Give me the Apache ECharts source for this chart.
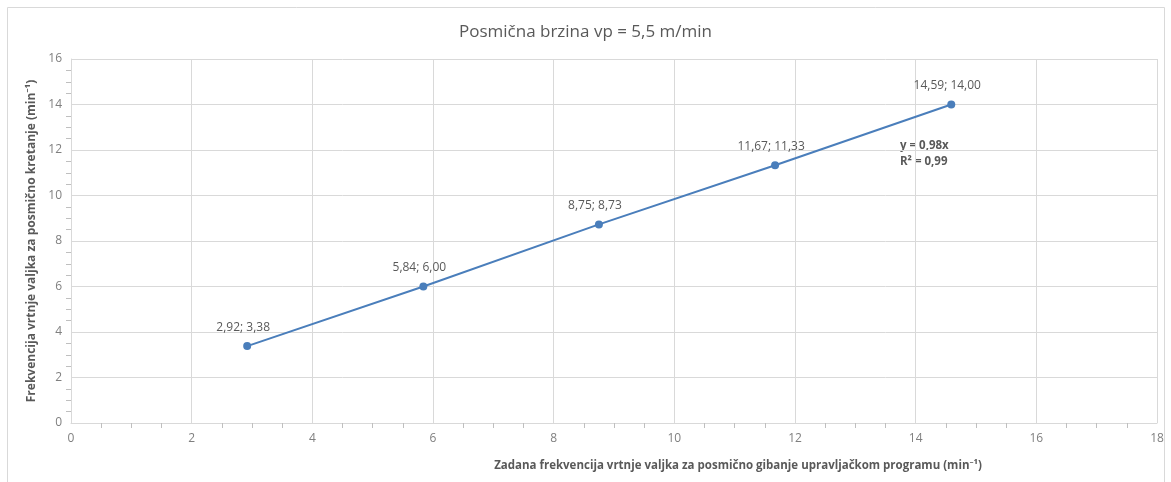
<!DOCTYPE html>
<html>
<head>
<meta charset="utf-8">
<script src="https://cdn.jsdelivr.net/npm/echarts@6/dist/echarts.min.js"></script>
<style>
  html, body { margin: 0; padding: 0; background: #fff; }
  #chart { width: 1171px; height: 482px; }
</style>
</head>
<body>
<div id="chart"></div>
<script>
// values
const xValues = [2.92, 5.84, 8.75, 11.67, 14.59]
const yValues = [3.38, 6.00, 8.73, 11.33, 14.00]
const trendText = ['y = 0,98x', 'R² = 0,99']

const titleText = 'Posmična brzina vp = 5,5 m/min'
const xName = 'Zadana frekvencija vrtnje valjka za posmično gibanje upravljačkom programu (min⁻¹)'
const yName = 'Frekvencija vrtnje valjka za posmično kretanje (min⁻¹)'

const fmt = v => v.toFixed(2).replace('.', ',')
const font = 'Open Sans, Noto Sans, sans-serif'
const grey = '#595959'
const gridCol = '#d9d9d9'

let points = xValues.map((x, i) => [x, yValues[i]])

let mychart = echarts.init(document.getElementById('chart'))
mychart.setOption({
  animation: false,
  title: {
    text: titleText,
    left: 'center',
    top: 19,
    textStyle: { color: grey, fontSize: 17, fontWeight: 'normal', fontFamily: font }
  },
  grid: { left: 71, right: 14, top: 59, bottom: 59, containLabel: false },
  xAxis: {
    type: 'value',
    min: 0, max: 18, interval: 2,
    name: xName,
    nameLocation: 'middle',
    nameGap: 37,
    nameTextStyle: { color: grey, fontSize: 11.5, fontWeight: 'bold', fontFamily: font, padding: [0, 0, 0, 248] },
    axisLine: { show: true, lineStyle: { color: gridCol } },
    axisTick: { show: false },
    minorTick: { show: true, splitNumber: 4, length: 5, lineStyle: { color: '#bfbfbf' } },
    axisLabel: { color: '#7f7f7f', fontSize: 12, fontFamily: font, margin: 10 },
    splitLine: { show: true, lineStyle: { color: gridCol } }
  },
  yAxis: {
    type: 'value',
    min: 0, max: 16, interval: 2,
    name: yName,
    nameLocation: 'middle',
    nameGap: 32,
    nameTextStyle: { color: grey, fontSize: 12, fontWeight: 'bold', fontFamily: font },
    axisLine: { show: true, lineStyle: { color: gridCol } },
    axisTick: { show: false },
    minorTick: { show: true, splitNumber: 4, length: 5, lineStyle: { color: '#bfbfbf' } },
    axisLabel: { color: '#7f7f7f', fontSize: 12, fontFamily: font, margin: 9 },
    splitLine: { show: true, lineStyle: { color: gridCol } }
  },
  series: [
    {
      type: 'line',
      data: points,
      symbol: 'circle',
      symbolSize: 8,
      lineStyle: { color: '#4a7ebb', width: 2 },
      itemStyle: { color: '#4a7ebb' },
      label: {
        show: true,
        position: 'top',
        distance: 9,
        offset: [-4, 0],
        color: grey,
        fontSize: 12,
        fontFamily: font,
        formatter: p => fmt(p.value[0]) + '; ' + fmt(p.value[1])
      }
    }
  ],
  graphic: [
    {
      type: 'text',
      left: 900,
      top: 138,
      style: {
        text: trendText.join('\n'),
        fill: grey,
        font: 'bold 11.5px ' + font,
        lineHeight: 16
      }
    },
    {
      type: 'rect',
      shape: { x: 7.5, y: 7.5, width: 1157, height: 480 },
      style: { fill: 'none', stroke: '#d9d9d9', lineWidth: 1 }
    }
  ]
})
</script>
</body>
</html>
